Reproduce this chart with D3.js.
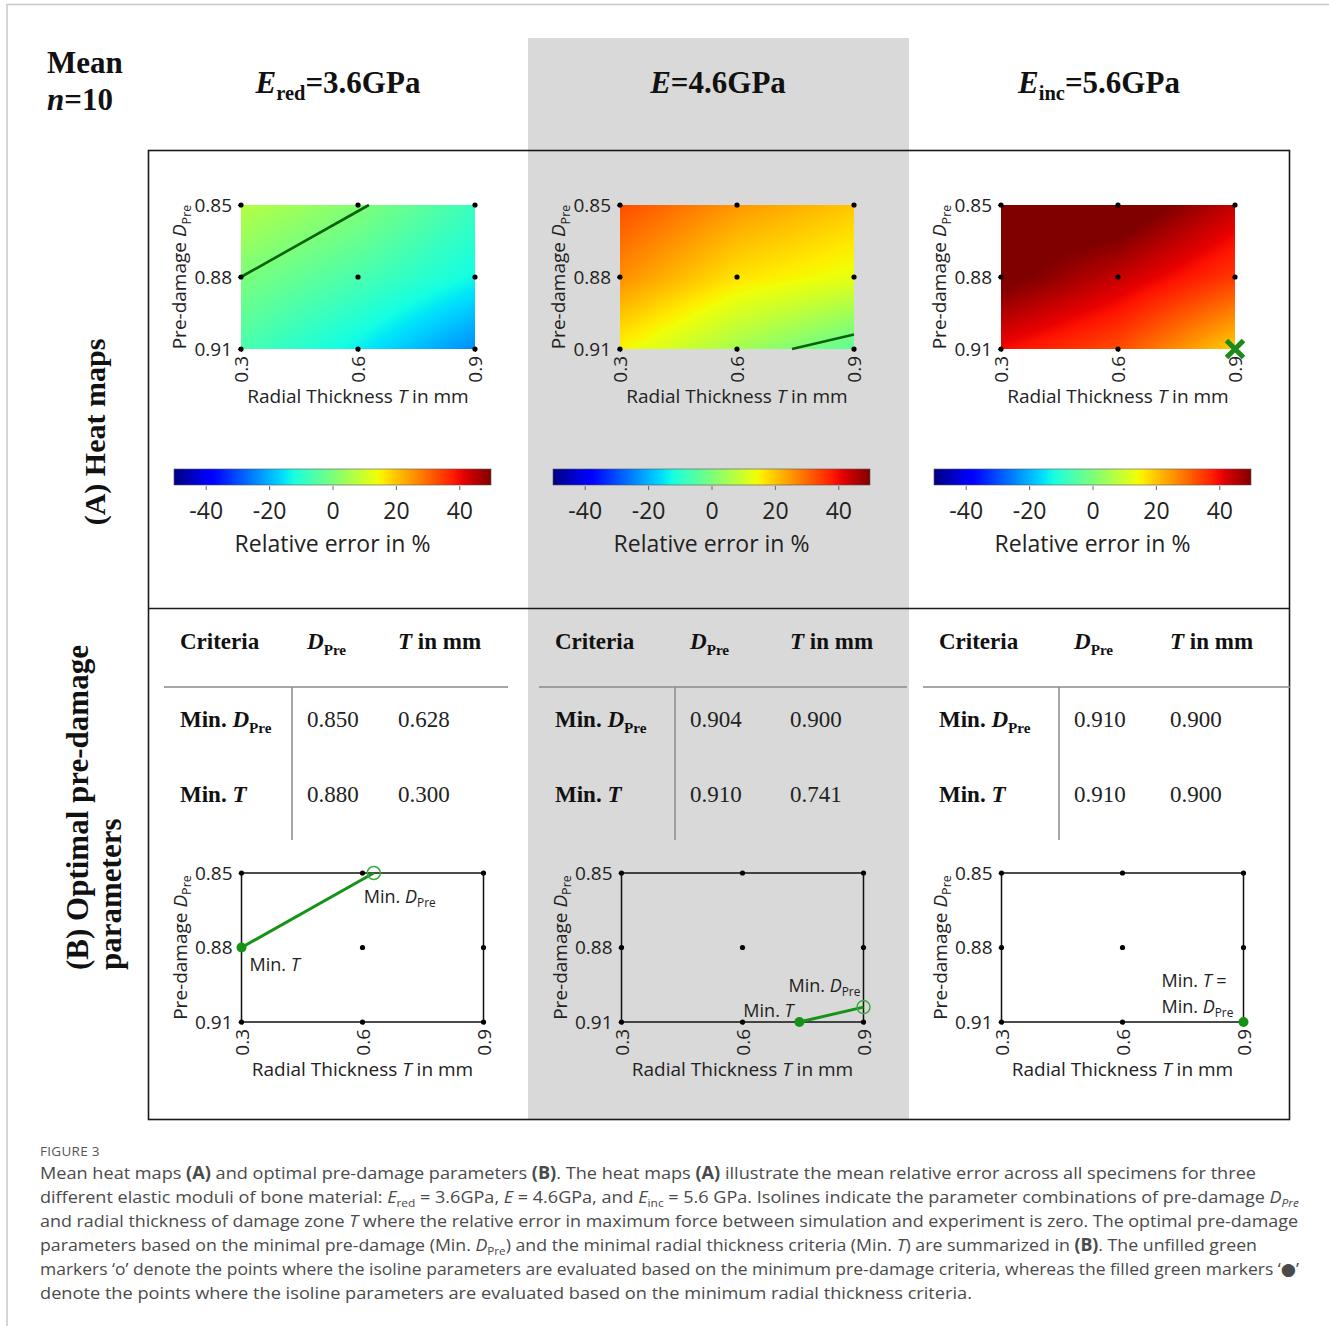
<!DOCTYPE html>
<html>
<head>
<meta charset="utf-8">
<script src="https://cdn.jsdelivr.net/npm/d3@7"></script>
<style>
  body { margin: 0; background: #fff; }
  svg { display: block; }
</style>
</head>
<body>
<svg id="fig" width="1329" height="1326"></svg>
<script>
// ---------- data ----------
const moduliSub = ["red", "", "inc"];
const moduliVal = ["3.6", "4.6", "5.6"];
const tTicks = [0.3, 0.6, 0.9];          // radial thickness T (mm)
const dTicks = [0.85, 0.88, 0.91];       // pre-damage D_Pre
const cbarTicks = [-40, -20, 0, 20, 40]; // relative error (%)

// mean relative error (%) on the simulation grid, rows = D_Pre, columns = T
const errRed = [[7, 0.8, -8], [0, -6, -13], [-6, -14, -24]];
const errMid = [[33, 25, 20], [26, 17, 13], [15, 5, -4]];
const errInc = [[55, 55, 44], [52, 44, 35], [40, 33, 19]];

// optimal pre-damage parameters per elastic modulus
const minDpreD = [0.850, 0.904, 0.910];
const minDpreT = [0.628, 0.900, 0.900];
const minTD = [0.880, 0.910, 0.910];
const minTT = [0.300, 0.741, 0.900];

// ---------- setup ----------
const svg = d3.select("#fig");
const SANS = "'Open Sans', 'DejaVu Sans', sans-serif";
const SERIF = "'Liberation Serif', 'Times New Roman', serif";
const grids = [errRed, errMid, errInc];

// writes text made of plain / italic / bold / subscript runs
function rich(sel, parts, fs) {
  let shift = 0;
  parts.forEach(p => {
    const ts = sel.append("tspan").text(p.t);
    const target = p.sub ? fs * 0.24 : 0;
    if (target !== shift) ts.attr("dy", target - shift);
    shift = target;
    if (p.sub) ts.attr("font-size", fs * 0.66);
    if (p.i) ts.attr("font-style", "italic");
    if (p.b) ts.attr("font-weight", "bold");
  });
  return sel;
}

// matplotlib "jet" colormap
const jetR = d3.scaleLinear().domain([0, 0.35, 0.66, 0.89, 1]).range([0, 0, 1, 1, 0.5]).clamp(true);
const jetG = d3.scaleLinear().domain([0, 0.125, 0.375, 0.64, 0.91, 1]).range([0, 0, 1, 1, 0, 0]).clamp(true);
const jetB = d3.scaleLinear().domain([0, 0.11, 0.34, 0.65, 1]).range([0.5, 1, 1, 0, 0]).clamp(true);
const errNorm = d3.scaleLinear().domain([-50, 50]).range([0, 1]).clamp(true);
const jetRGB = t => [Math.round(255 * jetR(t)), Math.round(255 * jetG(t)), Math.round(255 * jetB(t))];
const errColor = v => { const c = jetRGB(errNorm(v)); return `rgb(${c[0]},${c[1]},${c[2]})`; };

// bilinear interpolation of the error grid
const tIndex = d3.scaleLinear().domain(tTicks).range([0, 1, 2]).clamp(true);
const dIndex = d3.scaleLinear().domain(dTicks).range([0, 1, 2]).clamp(true);
function errorAt(grid, T, D) {
  const fi = tIndex(T), fj = dIndex(D);
  const i = Math.min(1, Math.floor(fi)), j = Math.min(1, Math.floor(fj));
  const u = fi - i, v = fj - j;
  return (1 - u) * (1 - v) * grid[j][i] + u * (1 - v) * grid[j][i + 1]
       + (1 - u) * v * grid[j + 1][i] + u * v * grid[j + 1][i + 1];
}

// ---------- frame, background band, box ----------
svg.append("path").attr("d", "M7,1326V4.5H1329")
  .attr("fill", "none").attr("stroke", "#c8c8c8").attr("stroke-width", 1.5);
svg.append("rect").attr("x", 528).attr("y", 38).attr("width", 381).attr("height", 1082)
  .attr("fill", "#d9d9d9");
svg.append("rect").attr("x", 148.5).attr("y", 150.5).attr("width", 1141).attr("height", 969)
  .attr("fill", "none").attr("stroke", "#1a1a1a").attr("stroke-width", 1.6);
svg.append("line").attr("x1", 148.5).attr("x2", 1289.5).attr("y1", 608.5).attr("y2", 608.5)
  .attr("stroke", "#1a1a1a").attr("stroke-width", 1.6);

// ---------- headings ----------
svg.append("text").attr("x", 47).attr("y", 73).attr("font-family", SERIF)
  .attr("font-size", 31).attr("font-weight", "bold").attr("fill", "#111").text("Mean");
rich(svg.append("text").attr("x", 47).attr("y", 110).attr("font-family", SERIF)
  .attr("font-size", 31).attr("font-weight", "bold").attr("fill", "#111"),
  [{ t: "n", i: true }, { t: "=10" }], 31);

const headX = [338, 718, 1099];
moduliVal.forEach((v, c) => {
  const parts = [{ t: "E", i: true }];
  if (moduliSub[c]) parts.push({ t: moduliSub[c], sub: true });
  parts.push({ t: "=" + v + "GPa" });
  rich(svg.append("text").attr("x", headX[c]).attr("y", 93).attr("text-anchor", "middle")
    .attr("font-family", SERIF).attr("font-size", 31).attr("font-weight", "bold").attr("fill", "#111"),
    parts, 31);
});

svg.append("text").attr("transform", "translate(105,432) rotate(-90)")
  .attr("text-anchor", "middle").attr("font-family", SERIF).attr("font-size", 30)
  .attr("font-weight", "bold").attr("fill", "#111").text("(A) Heat maps");
svg.append("text").attr("transform", "translate(88,970) rotate(-90)")
  .attr("font-family", SERIF).attr("font-size", 31)
  .attr("font-weight", "bold").attr("fill", "#111").text("(B) Optimal pre-damage");
svg.append("text").attr("transform", "translate(121,970) rotate(-90)")
  .attr("font-family", SERIF).attr("font-size", 31)
  .attr("font-weight", "bold").attr("fill", "#111").text("parameters");

// ---------- shared axis drawing ----------
const AX_FS = 19;
function drawAxes(x, y, x0, x1, y0, y1) {
  const ya = svg.append("g").attr("transform", `translate(${x0},0)`)
    .call(d3.axisLeft(y).tickValues(dTicks).tickSize(3).tickPadding(6).tickFormat(d3.format(".2f")));
  const xa = svg.append("g").attr("transform", `translate(0,${y1})`)
    .call(d3.axisBottom(x).tickValues(tTicks).tickSize(3).tickFormat(d3.format(".1f")));
  [ya, xa].forEach(a => {
    a.select(".domain").remove();
    a.selectAll("line").attr("stroke", "#222");
    a.selectAll("text").attr("font-family", SANS).attr("font-size", AX_FS).attr("fill", "#222");
  });
  xa.selectAll("text").attr("x", 0).attr("y", 0).attr("dy", "0.36em")
    .attr("transform", "translate(0,7) rotate(-90)").attr("text-anchor", "end");
  rich(svg.append("text").attr("x", (x0 + x1) / 2).attr("y", y1 + 54).attr("text-anchor", "middle")
    .attr("font-family", SANS).attr("font-size", AX_FS).attr("fill", "#222"),
    [{ t: "Radial Thickness " }, { t: "T", i: true }, { t: " in mm" }], AX_FS);
  rich(svg.append("text").attr("transform", `translate(${x0 - 55},${(y0 + y1) / 2}) rotate(-90)`)
    .attr("text-anchor", "middle").attr("font-family", SANS).attr("font-size", AX_FS).attr("fill", "#222"),
    [{ t: "Pre-damage " }, { t: "D", i: true }, { t: "Pre", sub: true }], AX_FS);
}
function drawGridDots(x, y) {
  const pts = d3.cross(tTicks, dTicks);
  svg.append("g").selectAll("circle").data(pts).join("circle")
    .attr("cx", d => x(d[0])).attr("cy", d => y(d[1])).attr("r", 2.6).attr("fill", "#000");
}

// ---------- (A) heat maps ----------
const heatX0 = [241, 620, 1001];
grids.forEach((grid, c) => {
  const x0 = heatX0[c], x1 = x0 + 234, y0 = 205, y1 = 349;
  const x = d3.scaleLinear().domain([0.3, 0.9]).range([x0, x1]);
  const y = d3.scaleLinear().domain([0.85, 0.91]).range([y0, y1]);

  const w = x1 - x0, h = y1 - y0;
  const cv = document.createElement("canvas");
  cv.width = w; cv.height = h;
  const ctx = cv.getContext("2d");
  const img = ctx.createImageData(w, h);
  for (let py = 0; py < h; py++) {
    const D = y.invert(y0 + py + 0.5);
    for (let px = 0; px < w; px++) {
      const T = x.invert(x0 + px + 0.5);
      const rgb = jetRGB(errNorm(errorAt(grid, T, D)));
      const k = 4 * (py * w + px);
      img.data[k] = rgb[0]; img.data[k + 1] = rgb[1]; img.data[k + 2] = rgb[2]; img.data[k + 3] = 255;
    }
  }
  ctx.putImageData(img, 0, 0);
  svg.append("image").attr("x", x0).attr("y", y0).attr("width", w).attr("height", h)
    .attr("preserveAspectRatio", "none").attr("href", cv.toDataURL());

  // zero-error isoline between the two optimal parameter sets
  const same = minTT[c] === minDpreT[c] && minTD[c] === minDpreD[c];
  if (!same) {
    svg.append("line").attr("x1", x(minTT[c])).attr("y1", y(minTD[c]))
      .attr("x2", x(minDpreT[c])).attr("y2", y(minDpreD[c]))
      .attr("stroke", "#0b600b").attr("stroke-width", 2.6);
  }
  drawAxes(x, y, x0, x1, y0, y1);
  drawGridDots(x, y);
  if (same) {
    const cx = x(minTT[c]), cy = y(minTD[c]), s = 8.5;
    svg.append("path").attr("d", `M${cx - s},${cy - s}L${cx + s},${cy + s}M${cx - s},${cy + s}L${cx + s},${cy - s}`)
      .attr("stroke", "#1a8a1a").attr("stroke-width", 5).attr("fill", "none");
  }
});

// ---------- colour bars ----------
const grad = svg.append("defs").append("linearGradient").attr("id", "jetGrad");
d3.range(0, 1.0001, 0.02).forEach(t => {
  grad.append("stop").attr("offset", t).attr("stop-color", errColor(-50 + 100 * t));
});
const cbarX0 = [174, 553, 934];
cbarX0.forEach(x0 => {
  const cx = d3.scaleLinear().domain([-50, 50]).range([x0, x0 + 317]);
  svg.append("rect").attr("x", x0).attr("y", 469).attr("width", 317).attr("height", 16)
    .attr("fill", "url(#jetGrad)").attr("stroke", "#555").attr("stroke-width", 0.6);
  const a = svg.append("g").attr("transform", "translate(0,486)")
    .call(d3.axisBottom(cx).tickValues(cbarTicks).tickSize(4).tickPadding(13).tickFormat(d3.format("d")));
  a.select(".domain").remove();
  a.selectAll("line").attr("stroke", "#666");
  a.selectAll("text").attr("font-family", SANS).attr("font-size", 23).attr("fill", "#222")
    .text(d => d < 0 ? "-" + Math.abs(d) : d);
  svg.append("text").attr("x", x0 + 158.5).attr("y", 552).attr("text-anchor", "middle")
    .attr("font-family", SANS).attr("font-size", 23).attr("fill", "#222").text("Relative error in %");
});

// ---------- (B) tables ----------
const tableLayout = [
  { crit: 180, dp: 307, tm: 398, v: 292, h0: 164, h1: 508 },
  { crit: 555, dp: 690, tm: 790, v: 675, h0: 539, h1: 907 },
  { crit: 939, dp: 1074, tm: 1170, v: 1059, h0: 923, h1: 1290 }
];
const fmt3 = d3.format(".3f");
tableLayout.forEach((L, c) => {
  const T_FS = 23;
  const bold = sel => sel.attr("font-family", SERIF).attr("font-size", T_FS).attr("font-weight", "bold").attr("fill", "#111");
  const reg = sel => sel.attr("font-family", SERIF).attr("font-size", T_FS).attr("fill", "#222");
  bold(svg.append("text").attr("x", L.crit).attr("y", 649)).text("Criteria");
  rich(bold(svg.append("text").attr("x", L.dp).attr("y", 649)), [{ t: "D", i: true }, { t: "Pre", sub: true }], T_FS);
  rich(bold(svg.append("text").attr("x", L.tm).attr("y", 649)), [{ t: "T", i: true }, { t: " in mm" }], T_FS);
  svg.append("line").attr("x1", L.h0).attr("x2", L.h1).attr("y1", 687).attr("y2", 687)
    .attr("stroke", "#8a8a8a").attr("stroke-width", 1.5);
  svg.append("line").attr("x1", L.v).attr("x2", L.v).attr("y1", 687).attr("y2", 840)
    .attr("stroke", "#8a8a8a").attr("stroke-width", 1.5);
  rich(bold(svg.append("text").attr("x", L.crit).attr("y", 727)),
    [{ t: "Min. " }, { t: "D", i: true }, { t: "Pre", sub: true }], T_FS);
  reg(svg.append("text").attr("x", L.dp).attr("y", 727)).text(fmt3(minDpreD[c]));
  reg(svg.append("text").attr("x", L.tm).attr("y", 727)).text(fmt3(minDpreT[c]));
  rich(bold(svg.append("text").attr("x", L.crit).attr("y", 802)),
    [{ t: "Min. " }, { t: "T", i: true }], T_FS);
  reg(svg.append("text").attr("x", L.dp).attr("y", 802)).text(fmt3(minTD[c]));
  reg(svg.append("text").attr("x", L.tm).attr("y", 802)).text(fmt3(minTT[c]));
});

// ---------- (B) optimal parameter plots ----------
const optX0 = [241.5, 621.5, 1001.5];
// label offsets (px) from the marker each annotation belongs to
const labelDpre = [[-10, 30], [-75, -15], [-82, -9]];
const labelT = [[8, 23], [-56, -5], [-82, -35]];
optX0.forEach((x0, c) => {
  const x1 = x0 + 242, y0 = 873, y1 = 1022;
  const x = d3.scaleLinear().domain([0.3, 0.9]).range([x0, x1]);
  const y = d3.scaleLinear().domain([0.85, 0.91]).range([y0, y1]);
  svg.append("rect").attr("x", x0).attr("y", y0).attr("width", x1 - x0).attr("height", y1 - y0)
    .attr("fill", "none").attr("stroke", "#111").attr("stroke-width", 1.5);
  drawAxes(x, y, x0, x1, y0, y1);
  drawGridDots(x, y);

  const same = minTT[c] === minDpreT[c] && minTD[c] === minDpreD[c];
  const g = svg.append("g");
  g.append("line").attr("x1", x(minTT[c])).attr("y1", y(minTD[c]))
    .attr("x2", x(minDpreT[c])).attr("y2", y(minDpreD[c]))
    .attr("stroke", "#169216").attr("stroke-width", 3);
  if (!same) {
    g.append("circle").attr("cx", x(minDpreT[c])).attr("cy", y(minDpreD[c])).attr("r", 6.5)
      .attr("fill", "none").attr("stroke", "#3aaa3a").attr("stroke-width", 1.5);
  }
  g.append("circle").attr("cx", x(minTT[c])).attr("cy", y(minTD[c])).attr("r", 5)
    .attr("fill", "#169216");

  const lab = (px, py) => svg.append("text").attr("x", px).attr("y", py)
    .attr("font-family", SANS).attr("font-size", 18).attr("fill", "#222");
  if (same) {
    rich(lab(x(minTT[c]) + labelT[c][0], y(minTD[c]) + labelT[c][1]),
      [{ t: "Min. " }, { t: "T", i: true }, { t: " =" }], 18);
  } else {
    rich(lab(x(minTT[c]) + labelT[c][0], y(minTD[c]) + labelT[c][1]),
      [{ t: "Min. " }, { t: "T", i: true }], 18);
  }
  rich(lab(x(minDpreT[c]) + labelDpre[c][0], y(minDpreD[c]) + labelDpre[c][1]),
    [{ t: "Min. " }, { t: "D", i: true }, { t: "Pre", sub: true }], 18);
});

// ---------- caption ----------
svg.append("text").attr("x", 40).attr("y", 1156).attr("font-family", SANS).attr("font-size", 13.5)
  .attr("fill", "#555").attr("letter-spacing", 0.3).text("FIGURE 3");
const capLines = [
  [{ t: "Mean heat maps " }, { t: "(A)", b: true }, { t: " and optimal pre-damage parameters " }, { t: "(B)", b: true },
   { t: ". The heat maps " }, { t: "(A)", b: true }, { t: " illustrate the mean relative error across all specimens for three" }],
  [{ t: "different elastic moduli of bone material: " }, { t: "E", i: true }, { t: "red", sub: true }, { t: " = 3.6GPa, " },
   { t: "E", i: true }, { t: " = 4.6GPa, and " }, { t: "E", i: true }, { t: "inc", sub: true },
   { t: " = 5.6 GPa. Isolines indicate the parameter combinations of pre-damage " }, { t: "D", i: true }, { t: "Pre", sub: true, i: true }],
  [{ t: "and radial thickness of damage zone " }, { t: "T", i: true },
   { t: " where the relative error in maximum force between simulation and experiment is zero. The optimal pre-damage" }],
  [{ t: "parameters based on the minimal pre-damage (Min. " }, { t: "D", i: true }, { t: "Pre", sub: true },
   { t: ") and the minimal radial thickness criteria (Min. " }, { t: "T", i: true }, { t: ") are summarized in " },
   { t: "(B)", b: true }, { t: ". The unfilled green" }],
  [{ t: "markers \u2018o\u2019 denote the points where the isoline parameters are evaluated based on the minimum pre-damage criteria, whereas the filled green markers \u2018\u25CF\u2019" }],
  [{ t: "denote the points where the isoline parameters are evaluated based on the minimum radial thickness criteria." }]
];
const capEnd = [1256, 1299, 1298, 1257, 1299, 972];
capLines.forEach((parts, k) => {
  const t = svg.append("text").attr("x", 40).attr("y", 1179 + 24 * k)
    .attr("font-family", SANS).attr("font-size", 17).attr("fill", "#4a4a4a")
    .attr("textLength", capEnd[k] - 40).attr("lengthAdjust", "spacingAndGlyphs");
  rich(t, parts, 17);
});
</script>
</body>
</html>
